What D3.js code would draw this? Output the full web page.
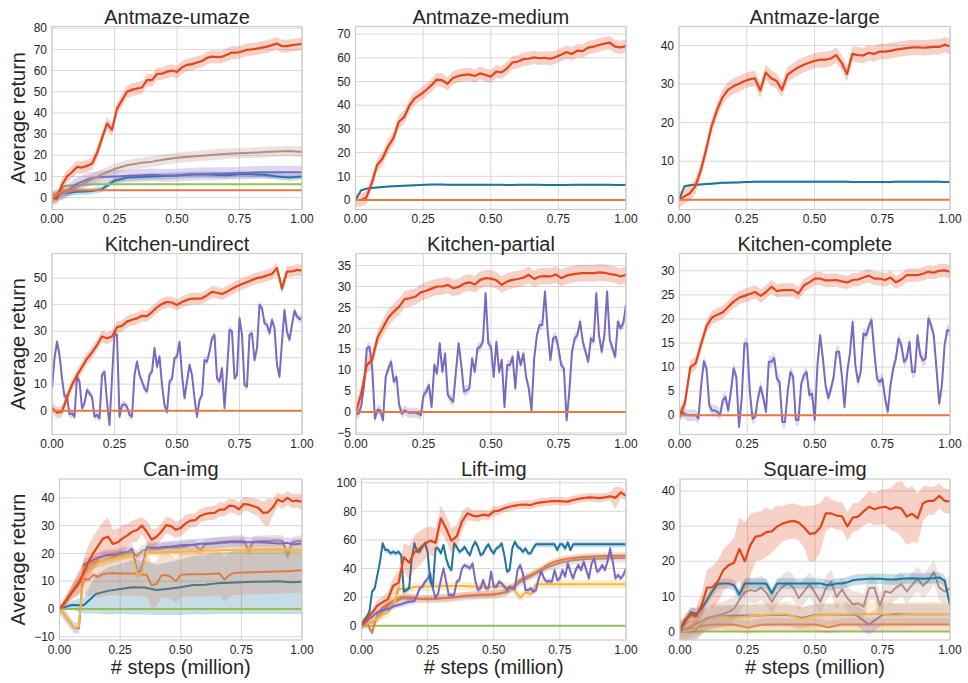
<!DOCTYPE html>
<html>
<head>
<meta charset="utf-8">
<script src="https://d3js.org/d3.v7.min.js"></script>
<style>
  body { margin: 0; background: #fff; }
  svg text { font-family: "Liberation Sans", Arial, sans-serif; fill: #262626; }
</style>
</head>
<body>
<svg id="chart" width="968" height="683"></svg>
<script>
// 학습 진행 (million steps), 모든 패널 공통
const xTicks = [0, 0.25, 0.5, 0.75, 1.0];

/******************** Antmaze-umaze ********************/
const umazeTicks = [0, 10, 20, 30, 40, 50, 60, 70, 80];
const umazeRed = [0,-0.5,6,10,12,14.5,14.2,15,16,21,28,35,32,42,46,50,51,51.5,52,55.5,55.5,58.4,58.5,59.5,60,59.3,61.5,62.7,63,63.8,64.5,66,66.6,66.3,66.5,67.5,68.5,68.5,69,69.8,70,70.4,70.8,71.3,72,72.8,71.5,71.5,72,72.3,72.6];
const umazeBrown = [0,2,5,8,11,13.5,15.3,16.3,17,18,18.8,19.3,19.8,20.3,20.7,21,21.2,21.5,21.8,22,21.6];
const umazePurple = [0,2.5,6.5,9,9.8,10,10.2,10.5,10.8,10.5,10.6,11,11.2,11.3,11.4,11.6,11.8,12,12,12,12];
const umazeBlue = [0,2,2.8,3,4,8,9.5,9.8,10,10.2,10.5,10.8,11,10.8,10.6,11,11,10.8,10,9.5,10];
const umazeGreen = [0,5.5,6,6.2,6.3,6.3,6.3,6.3,6.3,6.3,6.3,6.3,6.3,6.3,6.3,6.3,6.3,6.3,6.3,6.3,6.3];
const umazeOrange = [0,3.5,3.5,3.5,3.5,3.5,3.5,3.5,3.5,3.5,3.5,3.5,3.5,3.5,3.5,3.5,3.5,3.5,3.5,3.5,3.5];

/******************** Antmaze-medium ********************/
const mediumTicks = [0, 10, 20, 30, 40, 50, 60, 70];
const mediumRed = [0,0,1,7,14.8,17.5,22.5,26,33,35,
  40,43,44.5,46.3,48.3,50.8,50.6,49,51.5,52.3,
  52.8,53,52.3,53.4,52.8,52,54.2,53.8,55.5,58,
  58.4,59.4,59.6,60.2,59.8,60,59.6,60.3,61.3,62.4,
  61.6,63,62.8,64.3,64.7,65.4,66,66.4,64.7,64.4,64.9];
const mediumBlue = [0,4,4.8,5.1,5.3,5.5,5.7,5.8,5.9,6,
  6.1,6.2,6.3,6.4,6.5,6.5,6.5,6.4,6.4,6.4,
  6.4,6.4,6.4,6.4,6.4,6.4,6.4,6.4,6.3,6.3,
  6.4,6.4,6.4,6.4,6.4,6.3,6.3,6.3,6.3,6.3,
  6.4,6.4,6.4,6.4,6.4,6.4,6.4,6.4,6.3,6.3,6.3];
const mediumOrange = [0,0,0,0,0,0,0,0,0,0,0,0,0,0,0,0,0,0,0,0,0];

/******************** Antmaze-large ********************/
const largeTicks = [0, 10, 20, 30, 40];
const largeRed = [0,0.9,1.7,3.5,7.5,13,19,23.2,26.5,28.4,
  29.4,30,30.7,31.2,31.5,28.3,33,31.5,30.8,28.5,
  32.4,33.4,34.3,35,35.5,36,36.3,36.3,36.6,37.5,
  35.5,32.6,37.8,37.5,37.4,38.1,37.8,38.4,38.4,38.6,
  38.9,39.1,39.3,39.5,39.5,39.4,39.5,39.6,39.6,40.2,39.7];
const largeBlue = [0,3.5,3.8,3.9,4,4.1,4.2,4.3,4.4,4.4,
  4.5,4.5,4.6,4.6,4.7,4.7,4.7,4.7,4.7,4.7,
  4.7,4.7,4.7,4.7,4.7,4.7,4.7,4.7,4.7,4.7,
  4.7,4.7,4.6,4.6,4.6,4.6,4.6,4.6,4.6,4.6,
  4.7,4.7,4.7,4.7,4.7,4.7,4.7,4.7,4.7,4.6,4.6];
const largeOrange = [0,0,0,0,0,0,0,0,0,0,0,0,0,0,0,0,0,0,0,0,0];

/******************** Kitchen-undirect ********************/
const undirectTicks = [0, 10, 20, 30, 40, 50];
const undirectRed = [1,-0.8,-0.4,5,9.8,13.3,16.4,19.6,22,24.7,
  28,27.3,28,31.5,32,33.6,34.3,34.8,35.8,35.7,
  37.2,39,40.3,41,40.8,39.9,41,41.8,42.3,42.3,
  42.4,43.5,44.8,44.5,44,44.9,46,46.9,47.8,48.5,
  49.3,50,50.4,51,51.6,53.8,46,52.5,52.5,53.1,52.8];
const undirectPurple = [8.4,19.8,26,21,12.2,5.3,5.3,-1.4,-1,-2.3,
  12.8,11,0.9,2.8,7.8,6.5,5.3,-2.3,-1.6,-2.9,
  13.5,14.7,3.4,-5.4,12.2,29.2,28.6,-2.3,2.1,2.4,
  1.5,-1.6,-2.3,13.5,18.5,13.5,11,8.4,7.2,13.5,
  14.7,23.6,16.6,20.4,9.7,2.1,-0.6,11,12,19.8,
  20.4,26,13.5,4.7,11,17.3,13.5,4.7,-2.3,4,
  5.9,19.1,18.5,22.3,27.3,28.6,12.2,11,16,0.9,
  14.7,30.5,29.8,12.2,13.5,34.9,28.6,9.7,9.1,28.6,
  29.2,19.1,23.6,39.9,38.7,33,32.4,29.2,34.3,31.1,
  17.3,12.8,26,38,29.8,26.7,32.4,37.7,35.5,34.6,34.9];
const undirectOrange = [0,0,0,0,0,0,0,0,0,0,0,0,0,0,0,0,0,0,0,0,0];

/******************** Kitchen-partial ********************/
const partialTicks = [-5, 0, 5, 10, 15, 20, 25, 30, 35];
const partialRed = [0,4.5,11.2,12.5,17.8,20.2,22.6,24,25.2,27,
  27.2,27.6,28.6,29,29.5,30,30,30.4,29.6,29.9,
  30.7,31,30.5,31.6,32,31.9,31.5,30.4,31.2,31.6,
  31.8,32.1,32.8,31.8,32.4,32.5,32.4,32.9,32,32.6,
  32.9,33.1,33.2,33.2,33.2,33.4,33.3,33,32.8,32.4,32.8];
const partialPurple = [-0.5,-0.4,1.6,6.4,15.2,15.6,10.4,-1.6,0.6,0.4,
  -2,8.4,10.4,12,7.2,8.4,1.6,-0.4,0.4,0,
  -0.2,-0.2,-0.2,-0.4,-0.8,4,4.8,6.4,1.2,11.2,
  9.2,16.4,9.6,14,4,3.2,2.4,9.6,16.4,11.2,
  4.8,5.2,5.6,12.8,9.6,15.2,15.6,16.8,28.4,16.4,
  15.6,8.4,16.8,9.6,12.4,1.2,11.2,11.2,13.2,5.6,
  14.4,11.2,14,8.4,5.6,0.4,12.8,18.4,20.8,20.8,
  28.8,19.2,12.4,17.6,18,15.2,11.2,10.4,-2,4.8,
  14.4,17.6,18.4,21.6,16.8,14.4,12,17.6,16.8,28.4,
  18.4,14.4,18.4,28.8,17.2,15.2,13.2,21.6,20,21.2,25.6];
const partialOrange = [0,0,0,0,0,0,0,0,0,0,0,0,0,0,0,0,0,0,0,0,0];

/******************** Kitchen-complete ********************/
const completeTicks = [0, 5, 10, 15, 20, 25, 30];
const completeRed = [0,2.5,10,10.8,14.8,18.5,20.3,20.9,21.4,22.5,
  23.6,24.4,24.8,25.2,25.6,24.8,25.6,26.7,25.8,26,
  26,26,25.3,27,27.6,28.4,28.4,28,28,28.1,
  27.8,27.6,28.1,28.2,28.6,29,28.4,28.4,28.1,28.6,
  27.6,28.2,29.1,29.1,29.1,29.4,29.8,29.6,30,30.1,29.8];
const completePurple = [-0.3,0.7,0.3,0,0,0,0,-0.7,6.2,11.2,
  9.7,2.1,1,1,0.7,0,3.1,3.8,1,4.9,
  9.7,8,-2.4,3.5,14.9,14.9,4.9,-0.7,-0.3,3.5,
  5.9,3.5,0.7,11.1,11.1,11.9,7.6,6.9,-1.4,-1.4,
  4.9,9,8,-1,-1,6.6,8.3,9,4.2,4.5,
  -1,10.4,16.6,11.8,6.2,3.6,5.5,8,13.2,13.2,
  8.3,1.7,9,12.8,19.4,10.4,6.9,9,17,16.6,
  18.4,19.8,13.2,7.6,6.9,7.6,3.5,0.7,6.2,9.7,
  11.8,15.9,14.6,11.1,11.8,15.2,9,9,16.6,12.5,
  11.4,11.8,20.1,18.7,16.6,9.7,2.4,6.2,14.6,17.7,17.5];
const completeOrange = [0,0,0,0,0,0,0,0,0,0,0,0,0,0,0,0,0,0,0,0,0];

/******************** Can-img ********************/
const canTicks = [-10, 0, 10, 20, 30, 40];
const canRed = [0,2.2,4.6,6.8,9.2,13.2,17,20.2,22.8,25.4,
  26,23.4,24,25.4,26.5,27.8,28.4,30,27.8,24.9,
  26,27.8,30.2,29.8,28.5,29.2,30.8,31.8,32,33.5,
  34.2,34.5,34.6,35.8,35.8,37.2,37,35.9,37.8,37.6,
  37,36.4,34.6,34.8,36.6,39.4,38.6,40,38.8,39,38.6];
const canRedBand = [0,1,2,3,4,5,6,6,6,6,
  7,5,5,5,4,4,4,3,4,4,
  3,3,3,3,3,3,3,2.5,2.5,2.5,
  2.5,2.5,2.5,2.5,2.5,2.5,2.5,2.5,2.5,2.5,
  3,3,4,5,3,2.5,2.5,2.5,2.5,2.5,3];
const canPurple = [0,-2,-4.5,-6.8,-7,16,16.8,17.6,18.4,19,
  19.4,19.4,19.8,20.2,20.5,21.5,13,14,22.2,22,
  22,22.2,22.4,22.5,22.7,22.9,23,23,23.2,23.5,
  23.5,23.6,23.6,23.8,23.8,24,24,24,24,24,
  24,24,23.9,23.8,23.7,23.6,23.6,23.8,23.3,23.4,23.6];
const canYellow = [0,-2,-4.5,-6.8,-6.5,14.8,15.2,16,16.8,17.3,
  17.7,18,18.4,18.8,19.3,19.8,12.5,13,20.8,20.4,
  20.2,20.3,20.4,20.5,20.5,20.6,20.7,20.8,20.8,20.9,
  21,21,21,21.1,21.2,21.2,21.3,21.3,21.4,21.5,
  21.5,21.5,21.5,21.5,21.5,21.6,21.5,21.4,21.3,21.2,21.2];
const canBrown = [0,2.5,5,7.6,10,12.5,15,16.5,17,17.2,
  18,18.5,19.2,19.5,20,20.3,19,21,21.3,21.5,
  21.5,21.7,22,22,22,22.2,22.5,23,23,21,
  23.2,23.5,23.8,24,24.2,24.4,24.5,24.5,24.5,21,
  24.3,24.4,24.5,24.5,24.6,24.6,24.5,19,24,24.4,24.6];
const canOrange = [0,1.5,4.5,7.5,9.5,10.8,10.5,12.3,11.5,12.6,
  12.8,12.9,12.8,12.8,12.8,12.8,12.6,12.5,12.2,8.5,
  9,12,12.2,11.5,10,12.3,12.4,12.5,12.5,12.5,
  12.5,12.6,12.7,12.8,10.5,12.2,13,13,13.1,13.2,
  13.2,13.3,13.3,13.4,13.5,13.5,13.6,13.6,13.7,13.8,13.8];
const canOrangeBand = [0,1,2,3,4,5,6,7,7.5,8,
  8,8,8,8,8,8,8,8,8,8,
  8,8,8,8,8,8,8,8,8,8,
  8,8,8,8,8,8,8,8,8,8,
  8,8,8,8,8,8,8,8,8,8,8];
const canBlue = [0,1.4,1.3,5.4,6.5,7.2,7.8,7.7,6.8,7.3,7.8,8.6,8.7,9.2,9.4,9.6,9.8,9.8,10,9.6,9.8];
const canBlueBand = [0,1.5,3,7,8.5,9,9.8,9.7,9,9.5,10,10.5,10.7,11,11.2,11.4,11.6,11.6,11.8,11.5,11.5];
const canGreen = [0,0,0,0,0,0,0,0,0,0,0,0,0,0,0,0,0,0,0,0,0];

/******************** Lift-img ********************/
const liftTicks = [0, 20, 40, 60, 80, 100];
const liftRed = [0,5,9,14,16.5,18.6,28,30,48,44,
  51.3,54,57.5,59.5,58,75,68,59.5,62.5,73,
  78.6,77,76.5,77.7,77,80,80.5,82.2,83.2,84,
  84.6,84.7,84.4,85.7,86.3,86.7,87.1,87.2,87,86.8,
  87.9,88.7,89.3,89.8,89.6,89.2,89.8,90.5,89.4,93.2,90.9];
const liftRedBand = [0,2,3,4,4,5,6,8,10,12,
  12,12,11,10,10,9,9,9,8,7,
  5,4,4,3.5,3.5,3.5,3,3,3,3,
  3,3,3,3,3,3,3,3,3,3,
  3,3,3,3,3,3,3,3,8,4,3];
const liftBlue = [0,4,6.3,9.8,23.8,26.1,35.4,44.8,57.6,52.9,
  52.9,50.6,51.7,50.6,51.7,49.4,23.8,24.9,26.1,47.1,
  57.6,51.7,51.7,55.2,57.6,51.7,30.8,27.3,54.1,54.1,
  50.6,56.4,47.1,41.3,38.9,57.6,55.2,51.7,52.9,55.2,
  51.7,49.4,55.2,58.7,55.2,49.4,50.6,54.5,56.9,52.9,
  50.6,54.1,55.2,57.6,49.4,37.8,38.9,54.1,58.7,55.2,
  54.1,51.7,54.1,50.6,50.6,54.5,56.9,56.9,56.9,56.9,
  56.9,56.9,56.9,56.9,52.9,56.9,56.9,54.1,58.3,52.9,
  56.9,56.9,56.9,56.9,56.9,56.9,56.9,56.9,56.9,56.9,
  56.9,56.9,56.9,56.9,56.9,56.9,56.9,56.9,56.9,56.9,56.9];
const liftPurple = [0,1.5,3.3,4.8,6.3,7.8,9.3,10,11,11.3,
  11.7,12.5,13.3,14,14.5,15,15.6,16.2,16.8,17,
  17.2,21.4,26.1,27.3,30.8,32.6,36.6,26.1,19.1,22.6,
  31.9,40.1,30.8,21.4,21.4,21.4,30.8,31.9,40.1,42.4,
  41.3,40.1,43.6,31.9,24.9,26.1,31.9,26.1,26.1,37.8,
  27.3,27.3,30.8,29.6,27.3,24.9,27.3,26.1,26.1,38.9,
  42.4,36.6,24.9,24.9,26.1,23.8,24.9,33.1,37.8,33.1,
  30.8,31.2,30.8,38.9,31.9,33.1,38.9,34.3,43.6,37.8,
  33.1,38.9,42.4,38.9,44.8,38.9,33.1,43.6,47.1,37.8,
  38.9,42.4,38.9,44.8,54.1,44.8,33.1,35.4,33.1,35.4,40.1];
const liftYellow = [0,1.5,3,5,7.5,9.5,14.5,26,25.5,26.2,
  27,27.3,27.4,27.5,27.6,27.7,27.7,27.7,27.7,27.7,
  27.6,27.5,27.4,27.3,27.3,27.3,27.4,27.5,27,24.5,
  19.5,23.5,22,29,29,29,29,29,29,29,
  29,29,29,29,29,29,29,29,29,29,29];
const liftOrange = [0,2,-5,8,12.5,15,17.5,19.5,20.3,20,
  19.5,18.6,19,18.8,19.1,19.3,19.5,20,20.3,20.8,
  21.2,21.4,21.6,21.8,21.9,22.1,22.5,23.5,25,28.5,
  31.9,34,35.6,37.5,39.5,42,44,45.3,46.2,46.9,
  47.3,47.7,48.1,48.3,48.5,48.6,48.7,48.8,48.9,49,49];
const liftBrown = [0,3,14,19,19,18.5,19,19.8,20.8,21.3,21.7,23.5,30.5,35.5,40.5,44,45.8,46.6,47,47.2,47.3];
const liftGreen = [0,0,0,0,0,0,0,0,0,0,0,0,0,0,0,0,0,0,0,0,0];

/******************** Square-img ********************/
const squareTicks = [0, 10, 20, 30, 40];
const squareRed = [0.5,3.4,4.7,4.4,7.5,12.5,12.6,14.2,17.4,18.9,
  19.5,23.5,20,24.5,27,27.3,28.3,28.5,29.9,30.7,
  31.2,31.5,31,29.6,27.8,28,29.6,33.6,33.6,33,
  32.8,29.9,32.4,32.7,34.2,35.5,34.8,35.3,35.5,34.8,
  35.4,35,32.7,33.5,32.2,36.5,37.2,37.2,38.6,37.2,37];
const squareRedBand = [0.5,1.5,2,2.5,3.5,5,6,6,6,6,
  7,9,11,9,7,7,7,6,6,5,
  5,5,5,6,8,8,7,5,4,4,
  4,4,4,4,4,4.5,4.5,5,5,6,
  7,8,8,8,7,5,4,4,3.5,3.5,3.5];
const squareBlue = [0.5,3,5.5,5,6.5,9,11.5,13.5,13.7,13.7,
  13.2,10.5,13.7,13.7,13.7,13.7,13.6,10.9,13.7,13.7,
  13.7,13.7,13.7,13.7,13.7,13.7,13.7,13.3,13.2,13.7,
  13.7,14,14.6,14.8,14.9,15,15,15,14.9,14.8,
  14.8,15,15.1,15.2,15.1,15,15.1,15.2,15.4,14.5,7.6];
const squareBrown = [0,0.8,1.5,2.2,3,3.8,4.2,4.6,5,5.6,
  6.5,9,11.2,11.8,11.5,12.5,11,8.5,11,12.8,
  13.7,12.5,9.5,11.5,13.5,11,8.5,12.3,14.2,9.8,
  12,9.5,7.8,8,7.1,12.3,12.5,7.3,11.5,11,
  12.5,13.5,11.4,13.3,15,13,14.5,17,12.5,11.4,12.3];
const squarePurple = [0,0,3.8,4.3,4.6,4.6,4.6,4.7,4.7,3.9,4.7,4.8,4.8,4.8,2,4.8,4.9,4.9,4.9,4.9,4.9];
const squareYellow = [0,0.5,3.8,4.3,3.8,4.3,4.7,4.9,4.9,3.5,4.5,4.8,4.9,4.9,5,5,4.5,5,5,5,5];
const squareOrange = [0,1,1.9,2,2,1.1,1.9,2,2,2,2,1.2,2,2,2,2,2,2,2,2,2];
const squareGreen = [0,0,0,0,0,0,0,0,0,0,0,0,0,0,0,0,0,0,0,0,0];

/******************** 색상 ********************/
const COLORS = {
  red: '#e2461a',
  orange: '#e07b47',
  blue: '#1d76a0',
  green: '#92c352',
  purple: '#7a68c2',
  brown: '#b28e84',
  yellow: '#f8b640'
};

/******************** 패널 구성 ********************/
// series 순서 = 그리는 순서 (뒤에 있을수록 위에 그려짐)
const panels = [
  {title: 'Antmaze-umaze', ticks: umazeTicks, yDomain: [-5.6, 80.8], series: [
    {v: umazeBlue, b: 1.5, c: 'blue'}, {v: umazeGreen, b: 0.3, c: 'green'},
    {v: umazePurple, b: 3, c: 'purple'}, {v: umazeBrown, b: 2.5, c: 'brown'},
    {v: umazeRed, b: 3, c: 'red'}, {v: umazeOrange, b: 0.2, c: 'orange'}]},
  {title: 'Antmaze-medium', ticks: mediumTicks, yDomain: [-4.0, 73.2], series: [
    {v: mediumBlue, b: 0.4, c: 'blue'}, {v: mediumRed, b: 2.8, c: 'red'},
    {v: mediumOrange, b: 0, c: 'orange'}]},
  {title: 'Antmaze-large', ticks: largeTicks, yDomain: [-2.5, 44.9], series: [
    {v: largeBlue, b: 0.3, c: 'blue'}, {v: largeRed, b: 2, c: 'red'},
    {v: largeOrange, b: 0, c: 'orange'}]},
  {title: 'Kitchen-undirect', ticks: undirectTicks, yDomain: [-9.0, 59.3], series: [
    {v: undirectPurple, b: 1.5, c: 'purple'}, {v: undirectRed, b: 2.2, c: 'red'},
    {v: undirectOrange, b: 0, c: 'orange'}]},
  {title: 'Kitchen-partial', ticks: partialTicks, yDomain: [-5.4, 37.9], series: [
    {v: partialPurple, b: 1.2, c: 'purple'}, {v: partialRed, b: 2, c: 'red'},
    {v: partialOrange, b: 0, c: 'orange'}]},
  {title: 'Kitchen-complete', ticks: completeTicks, yDomain: [-4.0, 33.6], series: [
    {v: completePurple, b: 1.2, c: 'purple'}, {v: completeRed, b: 1.4, c: 'red'},
    {v: completeOrange, b: 0, c: 'orange'}]},
  {title: 'Can-img', ticks: canTicks, yDomain: [-11.2, 46.8], series: [
    {v: canBlue, b: canBlueBand, c: 'blue'}, {v: canGreen, b: 0.3, c: 'green'},
    {v: canOrange, b: canOrangeBand, c: 'orange'}, {v: canBrown, b: 2, c: 'brown'},
    {v: canPurple, b: 2, c: 'purple'}, {v: canYellow, b: 1.5, c: 'yellow'},
    {v: canRed, b: canRedBand, c: 'red'}]},
  {title: 'Lift-img', ticks: liftTicks, yDomain: [-10.0, 102.6], series: [
    {v: liftGreen, b: 0.3, c: 'green'}, {v: liftBrown, b: 3, c: 'brown'},
    {v: liftOrange, b: 2.5, c: 'orange'}, {v: liftYellow, b: 3, c: 'yellow'},
    {v: liftPurple, b: 2, c: 'purple'}, {v: liftBlue, b: 2, c: 'blue'},
    {v: liftRed, b: liftRedBand, c: 'red'}]},
  {title: 'Square-img', ticks: squareTicks, yDomain: [-2.4, 43.4], series: [
    {v: squareGreen, b: 0, c: 'green'}, {v: squareOrange, b: 1.8, c: 'orange'},
    {v: squarePurple, b: 3, c: 'purple'}, {v: squareYellow, b: 3.5, c: 'yellow'},
    {v: squareBrown, b: 3.5, c: 'brown'}, {v: squareBlue, b: 1.5, c: 'blue'},
    {v: squareRed, b: squareRedBand, c: 'red'}]}
];

/******************** 레이아웃 (px) ********************/
const W = 968, H = 683;
const rowTop = [26.5, 253.5, 479];
const rowBottom = [209.5, 434.5, 640];
const colRight = [302, 626, 950];
const panelLeft = [52, 355.5, 679, 52, 356, 679.5, 59.5, 361.5, 680];
const GRID = '#d9d9d9', FRAME = '#cccccc';

const svg = d3.select('#chart').attr('viewBox', [0, 0, W, H]);
svg.append('rect').attr('width', W).attr('height', H).attr('fill', '#fff');

panels.forEach((p, k) => {
  const row = Math.floor(k / 3), col = k % 3;
  const left = panelLeft[k], right = colRight[col];
  const top = rowTop[row], bottom = rowBottom[row];

  const x = d3.scaleLinear().domain([0, 1]).range([left, right]);
  const y = d3.scaleLinear().domain(p.yDomain).range([bottom, top]);

  const g = svg.append('g').attr('class', 'panel');

  // 그리드
  g.append('g').selectAll('line').data(p.ticks).join('line')
    .attr('x1', left).attr('x2', right)
    .attr('y1', d => y(d)).attr('y2', d => y(d))
    .attr('stroke', GRID).attr('stroke-width', 1);
  g.append('g').selectAll('line').data(xTicks).join('line')
    .attr('x1', d => x(d)).attr('x2', d => x(d))
    .attr('y1', top).attr('y2', bottom)
    .attr('stroke', GRID).attr('stroke-width', 1);

  // 클립 영역
  const clipId = `clip-${k}`;
  svg.append('clipPath').attr('id', clipId)
    .append('rect').attr('x', left).attr('y', top)
    .attr('width', right - left).attr('height', bottom - top);

  const plot = g.append('g').attr('clip-path', `url(#${clipId})`);

  const area = d3.area()
    .x(d => x(d.x)).y0(d => y(d.y - d.b)).y1(d => y(d.y + d.b));
  const line = d3.line().x(d => x(d.x)).y(d => y(d.y));

  p.series.forEach(s => {
    const n = s.v.length;
    const pts = s.v.map((v, i) => ({
      x: i / (n - 1),
      y: v,
      b: Array.isArray(s.b) ? s.b[i] : s.b
    }));
    const c = COLORS[s.c];
    plot.append('path').datum(pts)
      .attr('d', area)
      .attr('fill', c).attr('fill-opacity', 0.25).attr('stroke', 'none');
    plot.append('path').datum(pts)
      .attr('d', line)
      .attr('fill', 'none').attr('stroke', c)
      .attr('stroke-width', s.c === 'red' ? 2.2 : 2)
      .attr('stroke-linejoin', 'round');
  });

  // 테두리
  g.append('rect')
    .attr('x', left).attr('y', top)
    .attr('width', right - left).attr('height', bottom - top)
    .attr('fill', 'none').attr('stroke', FRAME).attr('stroke-width', 1.2);

  // y 눈금 레이블
  g.append('g').selectAll('text').data(p.ticks).join('text')
    .attr('x', left - 5).attr('y', d => y(d))
    .attr('dy', '0.35em').attr('text-anchor', 'end')
    .attr('font-size', 12)
    .text(d => d < 0 ? '\u2212' + Math.abs(d) : d);

  // x 눈금 레이블
  g.append('g').selectAll('text').data(xTicks).join('text')
    .attr('x', d => x(d)).attr('y', bottom + 5)
    .attr('dy', '0.71em').attr('text-anchor', 'middle')
    .attr('font-size', 12)
    .text(d => d3.format('.2f')(d));

  // 제목
  g.append('text')
    .attr('x', (left + right) / 2).attr('y', top - 3)
    .attr('text-anchor', 'middle').attr('font-size', 20)
    .text(p.title);

  if (col === 0) {
    g.append('text')
      .attr('transform', `translate(24.5,${(top + bottom) / 2}) rotate(-90)`)
      .attr('text-anchor', 'middle').attr('font-size', 20)
      .text('Average return');
  }
  if (row === 2) {
    g.append('text')
      .attr('x', (left + right) / 2).attr('y', bottom + 34)
      .attr('text-anchor', 'middle').attr('font-size', 20)
      .text('# steps (million)');
  }
});
</script>
</body>
</html>
